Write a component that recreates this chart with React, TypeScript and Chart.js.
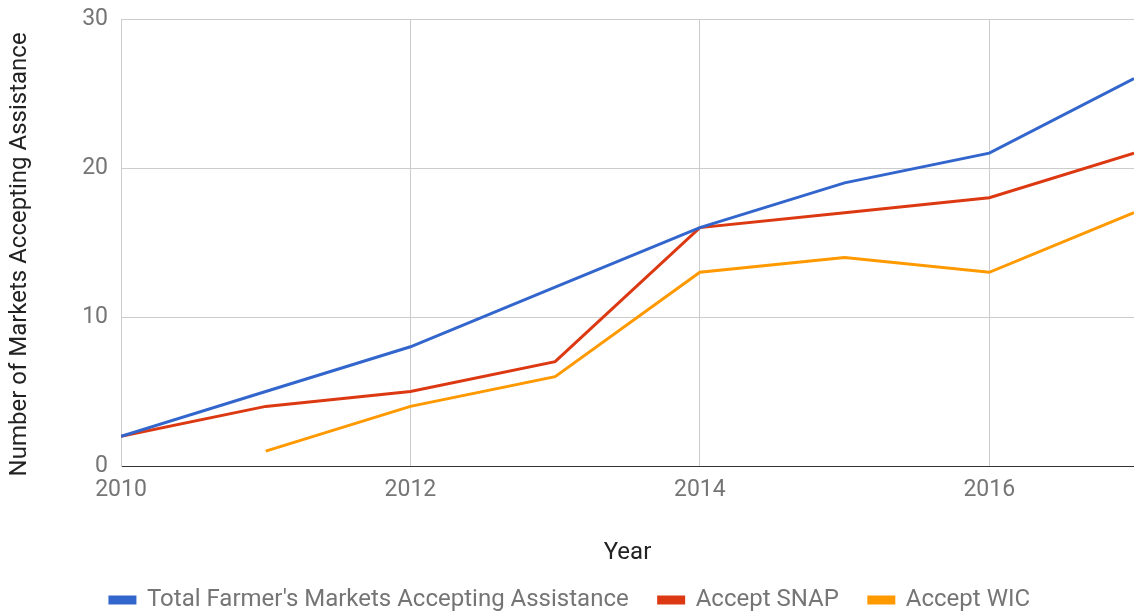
import React, { useEffect, useRef } from "react";
import { Chart, registerables } from "chart.js";

Chart.register(...registerables);

const years = [2010, 2011, 2012, 2013, 2014, 2015, 2016, 2017];
const totalAssist = [2, 5, 8, 12, 16, 19, 21, 26];
const acceptSnap = [2, 4, 5, 7, 16, 17, 18, 21];
const acceptWic: (number | null)[] = [null, 1, 4, 6, 13, 14, 13, 17];
const xTickValues = [2010, 2012, 2014, 2016];
const seriesNames = [
  "Total Farmer's Markets Accepting Assistance",
  "Accept SNAP",
  "Accept WIC",
];
const yTitle = "Number of Markets Accepting Assistance";
const xTitle = "Year";

const FONT = "Roboto, 'Noto Sans', sans-serif";

export default function App() {
  const ref = useRef<HTMLCanvasElement | null>(null);

  useEffect(() => {
    if (!ref.current) return;
    const toPts = (arr: (number | null)[]) => years.map((x, i) => ({ x, y: arr[i] }));
    const legendFix = {
      id: "legendFix",
      afterInit(chart: any) {
        const lg = chart.legend;
        if (!lg) return;
        const orig = lg.fit.bind(lg);
        lg.fit = function () {
          orig();
          this.height = 58;
        };
      },
    };
    const chart = new Chart(ref.current, {
      type: "line",
      data: {
        datasets: [
          { label: seriesNames[0], data: toPts(totalAssist), borderColor: "#3366CC", backgroundColor: "#3366CC" },
          { label: seriesNames[1], data: toPts(acceptSnap), borderColor: "#DC3912", backgroundColor: "#DC3912" },
          { label: seriesNames[2], data: toPts(acceptWic), borderColor: "#FF9900", backgroundColor: "#FF9900" },
        ] as any,
      },
      plugins: [legendFix],
      options: {
        animation: false,
        responsive: false,
        maintainAspectRatio: false,
        layout: { padding: { left: 6, top: 19, right: 0, bottom: 0 } },
        elements: {
          line: { borderWidth: 3, tension: 0 },
          point: { radius: 0, hoverRadius: 0 },
        },
        plugins: {
          tooltip: { enabled: false },
          legend: {
            position: "bottom",
            align: "center",
            labels: {
              boxWidth: 25,
              boxHeight: 6,
              padding: 30,
              color: "#757575",
              font: { family: FONT, size: 24 },
            },
          },
        },
        scales: {
          x: {
            type: "linear",
            min: 2010,
            max: 2017,
            afterBuildTicks: (s: any) => {
              s.ticks = xTickValues.map((v) => ({ value: v }));
            },
            afterFit: (s: any) => {
              s.height = 92;
              s.paddingLeft = 0;
              s.paddingRight = 0;
              s.paddingTop = 0;
              s.paddingBottom = 0;
            },
            grid: { color: "#cccccc", drawTicks: false },
            border: { color: "#333333", width: 1 },
            ticks: {
              padding: 10,
              color: "#757575",
              font: { family: FONT, size: 23 },
              maxRotation: 0,
              callback: (v: any) => String(v),
            },
            title: {
              display: true,
              text: xTitle,
              color: "#222222",
              font: { family: FONT, size: 24 },
              padding: { top: 0, bottom: -9 },
            },
          },
          y: {
            min: 0,
            max: 30,
            afterFit: (s: any) => {
              s.width = 115;
              s.paddingTop = 0;
              s.paddingBottom = 0;
              s.paddingLeft = 0;
              s.paddingRight = 0;
            },
            grid: {
              drawTicks: false,
              color: (c: any) => (c.tick && c.tick.value === 0 ? "#333333" : "#cccccc"),
            },
            border: { color: "#cccccc" },
            ticks: {
              stepSize: 10,
              padding: 13,
              color: "#757575",
              font: { family: FONT, size: 23 },
            },
            title: {
              display: true,
              text: yTitle + "    ",
              color: "#222222",
              font: { family: FONT, size: 24 },
              padding: { top: 0, bottom: 0 },
            },
          },
        },
      } as any,
    });
    return () => chart.destroy();
  }, []);

  return (
    <div style={{ position: "absolute", left: 0, top: 0, width: 1134, height: 616, background: "#fff" }}>
      <canvas ref={ref} width={1134} height={616} style={{ display: "block" }} />
    </div>
  );
}
